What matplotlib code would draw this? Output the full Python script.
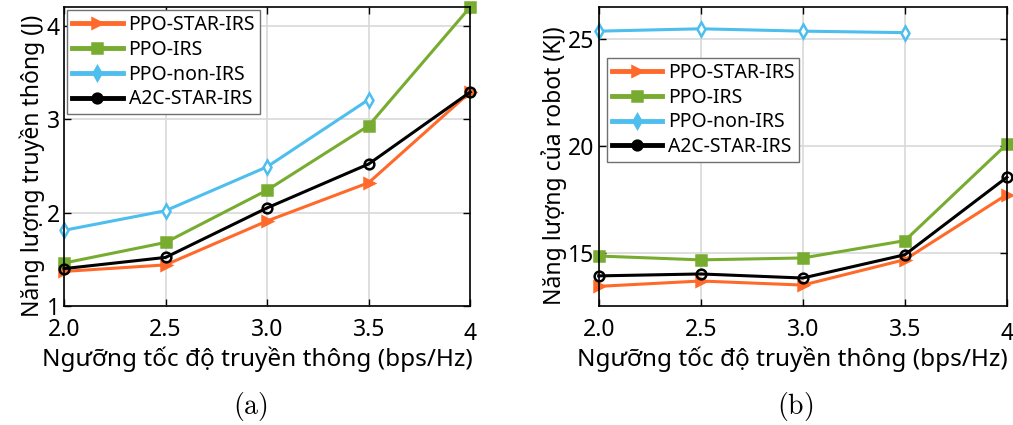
import matplotlib.pyplot as plt

plt.rcParams['font.family'] = ['Noto Sans', 'DejaVu Sans']
plt.rcParams['mathtext.fontset'] = 'cm'

# nguong toc do truyen thong (bps/Hz)
rate = [2.0, 2.5, 3.0, 3.5, 4.0]
rate_labels = ['2.0', '2.5', '3.0', '3.5', '4']
names = ['PPO-STAR-IRS', 'PPO-IRS', 'PPO-non-IRS', 'A2C-STAR-IRS']

# (a) nang luong truyen thong (J)
comm_star = [1.37, 1.44, 1.91, 2.32, 3.29]
comm_irs = [1.46, 1.68, 2.24, 2.93, 4.20]
comm_non = [1.81, 2.02, 2.49, 3.21]
comm_a2c = [1.40, 1.52, 2.05, 2.52, 3.29]

# (b) nang luong cua robot (KJ)
robot_star = [13.42, 13.67, 13.48, 14.67, 17.72]
robot_irs = [14.84, 14.66, 14.75, 15.56, 20.08]
robot_non = [25.37, 25.48, 25.37, 25.30]
robot_a2c = [13.91, 14.00, 13.81, 14.90, 18.53]

styles = [
    dict(color='#FF6A2A', marker='>', mfc='#FF6A2A'),
    dict(color='#77AC30', marker='s', mfc='#77AC30'),
    dict(color='#4DBEEE', marker='d', mfc='white'),
    dict(color='black', marker='o', mfc='none'),
]

fig = plt.figure(figsize=(10.13, 4.25), dpi=100)
ax1 = fig.add_axes([0.0632, 0.28, 0.401, 0.7035])
ax2 = fig.add_axes([0.591, 0.28, 0.403, 0.7035])


def draw(ax, series, ylim, yticks, ylabel, legend_anchor):
    for name, ys, st in zip(names, series, styles):
        ax.plot(rate[:len(ys)], ys, label=name, lw=2.2, ms=7, mew=1.8,
                mec=st['color'], clip_on=False, **st)
    ax.set_xlim(2.0, 4.0)
    ax.set_ylim(*ylim)
    ax.set_xticks(rate)
    ax.set_xticklabels(rate_labels)
    ax.set_yticks(yticks)
    ax.grid(True, color='#d9d9d9', lw=1.2)
    ax.set_axisbelow(True)
    ax.tick_params(direction='in', top=True, right=True, labelsize=16.5,
                   length=5, width=1)
    ax.tick_params(axis='x', pad=9)
    ax.tick_params(axis='y', pad=3)
    # the last x label sits a bit lower
    ax.get_xticklabels()[-1].set_y(-0.012)
    for s in ax.spines.values():
        s.set_linewidth(1.2)
    ax.set_xlabel('Ngưỡng tốc độ truyền thông (bps/Hz)', fontsize=17.5)
    ax.xaxis.set_label_coords(0.475, -0.135)
    ax.set_ylabel(ylabel, fontsize=16.5, labelpad=1)
    ax.yaxis.label.set_y(0.47)
    leg = ax.legend(loc='upper left', bbox_to_anchor=legend_anchor,
                    borderaxespad=0, fontsize=14, fancybox=False,
                    edgecolor='#707070', framealpha=1, handlelength=2.6,
                    handletextpad=0.3, labelspacing=0.25, borderpad=0.25)
    leg.get_frame().set_linewidth(1.0)
    for h in leg.get_lines():
        h.set_linewidth(3.5)
        h.set_markerfacecolor(h.get_color())


draw(ax1, [comm_star, comm_irs, comm_non, comm_a2c], (1, 4.2), [1, 2, 3, 4],
     'Năng lượng truyền thông (J)', (0.008, 0.99))
draw(ax2, [robot_star, robot_irs, robot_non, robot_a2c], (12.5, 26.5), [15, 20, 25],
     'Năng lượng của robot (KJ)', (0.02, 0.83))

fig.text(0.2475, 0.025, r'$\mathrm{(a)}$', ha='center', fontsize=20)
fig.text(0.785, 0.025, r'$\mathrm{(b)}$', ha='center', fontsize=20)

fig.savefig('out.png', dpi=100)
